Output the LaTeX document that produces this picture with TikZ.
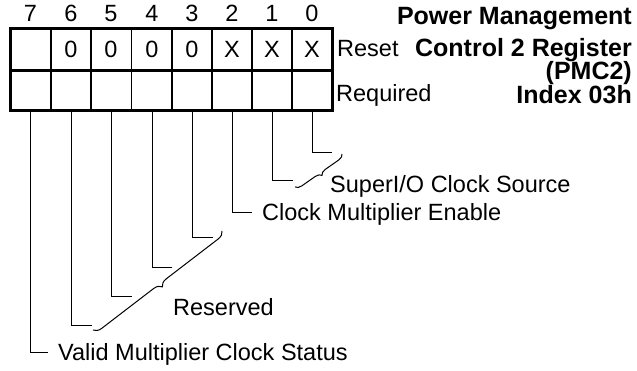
\documentclass[tikz,border=0pt]{standalone}
\usepackage{fontspec}
\setmainfont{Liberation Sans}
\usetikzlibrary{decorations.pathreplacing}
\begin{document}
\begin{tikzpicture}[x=1bp,y=-1bp,
  lbl/.style={inner sep=0pt,anchor=base west,font=\fontsize{23.5bp}{28bp}\selectfont},
  ttl/.style={inner sep=0pt,anchor=base east,font=\fontsize{25bp}{28bp}\selectfont\bfseries},
  thickline/.style={line width=3bp},
  thinline/.style={line width=1.1bp},
  leader/.style={line width=1bp},
  bracestyle/.style={line width=1bp,decorate,decoration={brace,amplitude=#1}}
]
\useasboundingbox (0,0) rectangle (637,370);
% table
\coordinate (tl) at (10,28);
\coordinate (br) at (332,110);
\coordinate (ml) at (10,70);
\coordinate (mr) at (332,70);
\foreach \x in {51,91,131.5,172,212,252,292}
  \draw[thinline] (\x,28) -- (\x,110);
\draw[thickline] (tl) rectangle (br);
\draw[thickline] (ml) -- (mr);
% bit numbers and leader starts
\foreach \i/\x in {7/30.5,6/71,5/111,4/152,3/192,2/232,1/272,0/312} {
  \node[lbl,anchor=base] (n\i) at (\x,21) {\i};
  \coordinate (b\i) at (\x,110);
}
% reset values
\foreach \i/\x/\v in {6/71/0,5/111/0,4/152/0,3/192/0,2/232/X,1/272/X,0/312/X}
  \node[lbl,anchor=base] (v\i) at (\x,57) {\v};
\node[lbl] (reset) at (337,56) {Reset};
\node[lbl] (req) at (336,101) {Required};
% title
\node[ttl] (t1) at (632,24) {Power Management};
\node[ttl] (t2) at (632,56) {Control 2 Register};
\node[ttl] (t3) at (632,79) {(PMC2)};
\node[ttl] (t4) at (632,103) {Index 03h};
% leaders
\coordinate (e0) at (332,152);
\coordinate (e1) at (293,180);
\coordinate (e2) at (252,212);
\coordinate (e3) at (213,237);
\coordinate (e4) at (172,267);
\coordinate (e5) at (132,296);
\coordinate (e6) at (92,325);
\coordinate (e7) at (48,352);
\foreach \i in {0,...,7}
  \draw[leader] (b\i) |- (e\i);
% braces
\coordinate (sa) at (342,154);
\coordinate (sb) at (295,187);
\draw[bracestyle=6bp] (sa) -- (sb);
\coordinate (ra) at (222,231);
\coordinate (rb) at (93,330);
\draw[bracestyle=8bp] (ra) -- (rb);
% labels
\node[lbl] (sio) at (330,192) {SuperI/O Clock Source};
\node[lbl] (cme) at (262,220) {Clock Multiplier Enable};
\node[lbl] (res) at (173,315) {Reserved};
\node[lbl] (vmc) at (58,360) {Valid Multiplier Clock Status};
\end{tikzpicture}
\end{document}
